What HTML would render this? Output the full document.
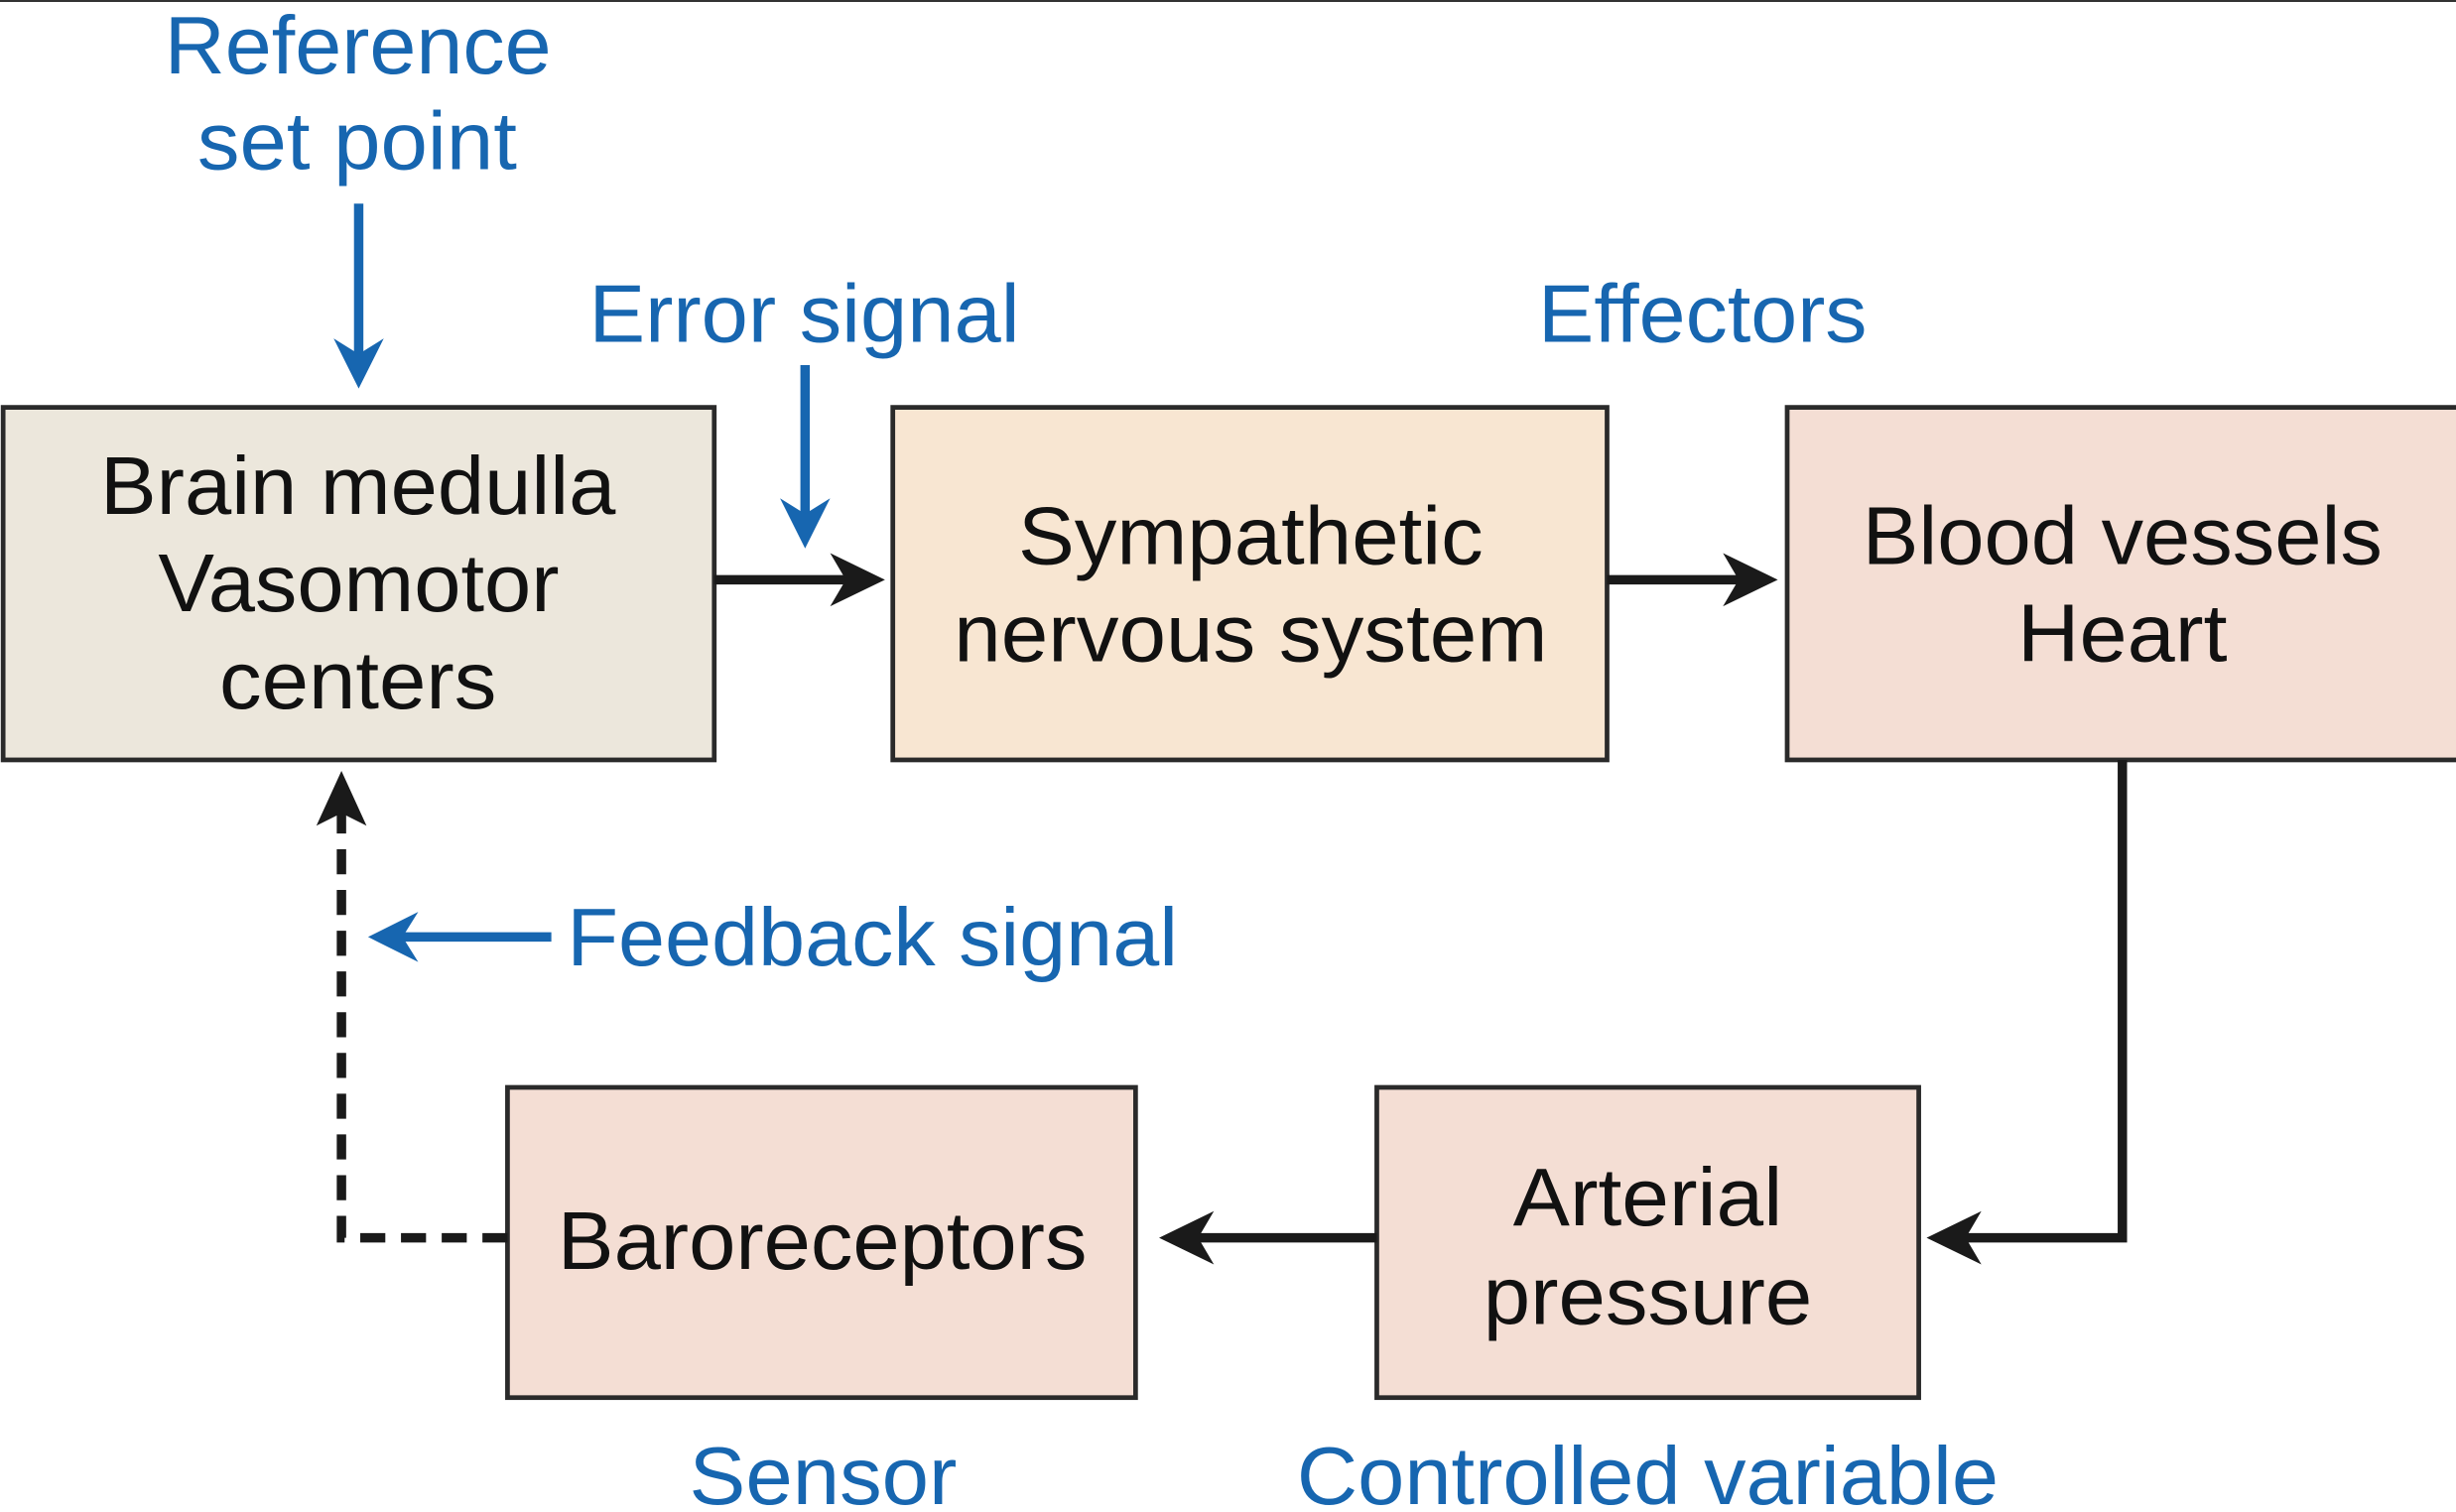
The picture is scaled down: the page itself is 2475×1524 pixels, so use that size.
<!DOCTYPE html>
<html><head><meta charset="utf-8"><style>
html,body{margin:0;padding:0;background:#fff;}
svg{display:block;}
text{font-family:"Liberation Sans",Arial,sans-serif;font-size:52px;}
.b{fill:#1766b0;}
.k{fill:#111;}
</style></head><body>
<svg width="2475" height="1524" viewBox="0 0 1568 965" preserveAspectRatio="none" xmlns="http://www.w3.org/2000/svg">
<rect width="1568" height="965" fill="#fff"/>
<line x1="0" y1="0.5" x2="1568" y2="0.5" stroke="#333" stroke-width="1.5"/>
<rect x="2" y="260" width="454" height="225" fill="#ece7dc" stroke="#2a2a2a" stroke-width="3"/>
<rect x="570" y="260" width="456" height="225" fill="#f8e6d2" stroke="#2a2a2a" stroke-width="3"/>
<rect x="1141" y="260" width="430" height="225" fill="#f4ded4" stroke="#2a2a2a" stroke-width="3"/>
<rect x="324" y="694" width="401" height="198" fill="#f4ded4" stroke="#2a2a2a" stroke-width="3"/>
<rect x="879" y="694" width="346" height="198" fill="#f4ded4" stroke="#2a2a2a" stroke-width="3"/>
<text class="b" x="105" y="47" textLength="247" lengthAdjust="spacingAndGlyphs">Reference</text>
<text class="b" x="126" y="108" textLength="204" lengthAdjust="spacingAndGlyphs">set point</text>
<text class="b" x="376" y="218" textLength="275" lengthAdjust="spacingAndGlyphs">Error signal</text>
<text class="b" x="982" y="218" textLength="210" lengthAdjust="spacingAndGlyphs">Effectors</text>
<text class="b" x="362" y="616" textLength="390" lengthAdjust="spacingAndGlyphs">Feedback signal</text>
<text class="b" x="440" y="960" textLength="171" lengthAdjust="spacingAndGlyphs">Sensor</text>
<text class="b" x="828" y="960" textLength="448" lengthAdjust="spacingAndGlyphs">Controlled variable</text>
<text class="k" x="64" y="328" textLength="329" lengthAdjust="spacingAndGlyphs">Brain medulla</text>
<text class="k" x="101" y="390" textLength="256" lengthAdjust="spacingAndGlyphs">Vasomotor</text>
<text class="k" x="140" y="452" textLength="177" lengthAdjust="spacingAndGlyphs">centers</text>
<text class="k" x="650" y="360" textLength="297" lengthAdjust="spacingAndGlyphs">Sympathetic</text>
<text class="k" x="609" y="422" textLength="379" lengthAdjust="spacingAndGlyphs">nervous system</text>
<text class="k" x="1189" y="360" textLength="332" lengthAdjust="spacingAndGlyphs">Blood vessels</text>
<text class="k" x="1288" y="422" textLength="134" lengthAdjust="spacingAndGlyphs">Heart</text>
<text class="k" x="356" y="810" textLength="338" lengthAdjust="spacingAndGlyphs">Baroreceptors</text>
<text class="k" x="966" y="782" textLength="172" lengthAdjust="spacingAndGlyphs">Arterial</text>
<text class="k" x="947" y="845" textLength="210" lengthAdjust="spacingAndGlyphs">pressure</text>
<line x1="229" y1="130" x2="229" y2="230" stroke="#1766b0" stroke-width="6"/>
<polygon points="213,216 229,248 245,216 229,226" fill="#1766b0"/>
<line x1="514" y1="233" x2="514" y2="333" stroke="#1766b0" stroke-width="6"/>
<polygon points="498,318 514,350 530,318 514,328" fill="#1766b0"/>
<line x1="352" y1="598" x2="252" y2="598" stroke="#1766b0" stroke-width="6"/>
<polygon points="267,582 235,598 267,614 257,598" fill="#1766b0"/>
<line x1="456" y1="370" x2="545" y2="370" stroke="#1a1a1a" stroke-width="6"/>
<polygon points="530,353 565,370 530,387 540,370" fill="#1a1a1a"/>
<line x1="1026" y1="370" x2="1115" y2="370" stroke="#1a1a1a" stroke-width="6"/>
<polygon points="1100,353 1135,370 1100,387 1110,370" fill="#1a1a1a"/>
<polyline points="1355,485 1355,790 1250,790" fill="none" stroke="#1a1a1a" stroke-width="6"/>
<polygon points="1265,773 1230,790 1265,807 1255,790" fill="#1a1a1a"/>
<line x1="879" y1="790" x2="760" y2="790" stroke="#1a1a1a" stroke-width="6"/>
<polygon points="775,773 740,790 775,807 765,790" fill="#1a1a1a"/>
<polyline points="324,790 218,790 218,515" fill="none" stroke="#1a1a1a" stroke-width="6" stroke-dasharray="16,10"/>
<polygon points="202,527 218,492 234,527 218,519" fill="#1a1a1a"/>
</svg>
</body></html>
